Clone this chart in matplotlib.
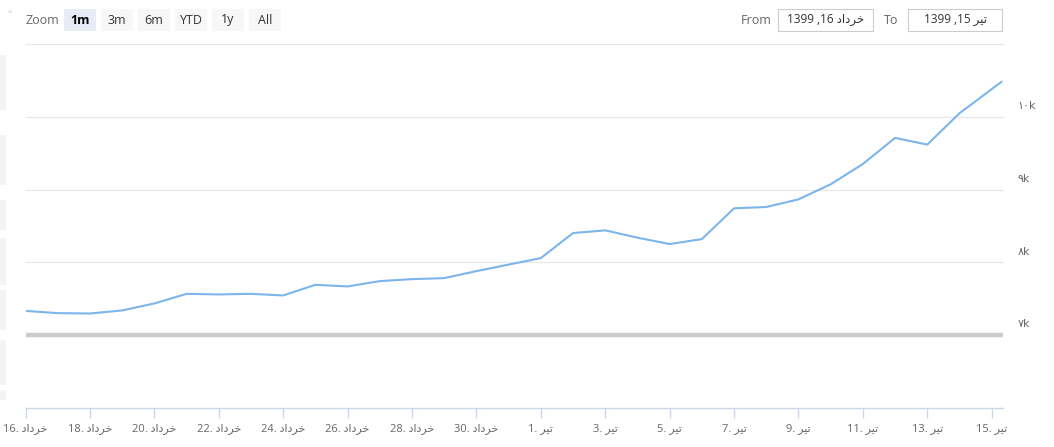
import matplotlib
matplotlib.use("Agg")
import matplotlib.pyplot as plt
from matplotlib.patches import Rectangle, FancyBboxPatch

plt.rcParams['font.family'] = ['Open Sans', 'DejaVu Sans']

# Persian month names in visual (pre-shaped, left-to-right) order
KHORDAD = "\uFEA9\uFE8D\uFEA9\uFEAE\uFEA7"   # خرداد
TIR = "\uFEAE\uFBFF\uFE97"                    # تیر

# day offsets from 16 Khordad 1399 (31 daily points; last one is the current day)
day_offset = [0, 1, 2, 3, 4, 5, 6, 7, 8, 9, 10, 11, 12, 13, 14, 15,
              16, 17, 18, 19, 20, 21, 22, 23, 24, 25, 26, 27, 28, 29, 30.3]
values = [7334, 7303, 7298, 7340, 7436, 7568, 7560, 7568, 7546, 7692, 7670,
          7743, 7770, 7784, 7880, 7970, 8059, 8403, 8440, 8340, 8252, 8320,
          8743, 8761, 8866, 9073, 9352, 9710, 9618, 10049, 10480]

tick_pos = [0, 2, 4, 6, 8, 10, 12, 14, 16, 18, 20, 22, 24, 26, 28, 30]
tick_labels = ["16. " + KHORDAD, "18. " + KHORDAD, "20. " + KHORDAD,
               "22. " + KHORDAD, "24. " + KHORDAD, "26. " + KHORDAD,
               "28. " + KHORDAD, "30. " + KHORDAD,
               "1. " + TIR, "3. " + TIR, "5. " + TIR, "7. " + TIR,
               "9. " + TIR, "11. " + TIR, "13. " + TIR, "15. " + TIR]
y_ticks = [7000, 8000, 9000, 10000]
y_labels = ["\u06F7k", "\u06F8k", "\u06F9k", "\u06F1\u06F0k"]
plot_line_value = 7000

W, H = 1054, 447
fig = plt.figure(figsize=(W / 100, H / 100), dpi=100)
fig.patch.set_facecolor("white")

# axes: x 25.5..1003, y 44..408 (pixels)
ax = fig.add_axes([25.5 / W, 1 - 408 / H, (1003 - 25.5) / W, (408 - 44) / H])
ax.set_xlim(0, 30.35)
ax.set_ylim(6000, 11000)
for s in ["top", "right", "left"]:
    ax.spines[s].set_visible(False)
ax.spines["bottom"].set_color("#ccd6eb")
ax.spines["bottom"].set_linewidth(1)

for yv in [8000, 9000, 10000, 11000]:
    ax.axhline(yv, color="#e6e6e6", lw=0.8, zorder=1, clip_on=False)
ax.axhline(plot_line_value, color="#cccccc", lw=3.2, zorder=2)

ax.plot(day_offset, values, color="#7cb5ec", lw=1.5, zorder=3,
        solid_joinstyle="round")

ax.set_xticks(tick_pos)
ax.set_xticklabels(tick_labels, fontsize=8, color="#666666")
ax.tick_params(axis="x", length=7, color="#ccd6eb", width=1, pad=4)
ax.set_yticks([])

for yv, lab in zip(y_ticks, y_labels):
    ax.text(1.015, (yv - 6000) / 5000 + 0.016, lab, transform=ax.transAxes,
            fontsize=8, color="#666666", ha="left", va="bottom",
            family=["DejaVu Sans"])

# --- toolbar ---
def px(x, y):
    return x / W, 1 - y / H

fig.text(*px(26, 20), "Zoom", fontsize=9, color="#666666", va="center", ha="left")
buttons = [("1m", 64, 96, True), ("3m", 101, 133, False), ("6m", 138, 170, False),
           ("YTD", 175, 207, False), ("1y", 212, 244, False), ("All", 249, 281, False)]
for lab, x0, x1, sel in buttons:
    fc = "#e6ebf5" if sel else "#f7f7f7"
    fig.patches.append(Rectangle(px(x0, 31), (x1 - x0) / W, 22 / H,
                                 transform=fig.transFigure, fc=fc, ec="none"))
    fig.text(*px((x0 + x1) / 2, 20), lab, fontsize=9,
             color="#000000" if sel else "#333333",
             weight="bold" if sel else "normal", ha="center", va="center")

fig.text(*px(741, 20), "From", fontsize=9, color="#666666", ha="left", va="center")
fig.text(*px(884, 20), "To", fontsize=9, color="#666666", ha="left", va="center")
for x0, x1, txt in [(778, 873, "1399 ,16 " + KHORDAD), (908, 1002, "1399 ,15 " + TIR)]:
    fig.patches.append(Rectangle(px(x0, 31), (x1 - x0) / W, 22 / H,
                                 transform=fig.transFigure, fc="white",
                                 ec="#cccccc", lw=0.8))
    fig.text(*px((x0 + x1) / 2, 20), txt, fontsize=8.5, color="#333333",
             ha="center", va="center")

# left edge remnants of neighbouring panel
for y0, y1 in [(55, 110), (135, 185), (200, 230), (238, 285), (290, 330),
               (340, 385), (390, 400)]:
    fig.patches.append(Rectangle(px(0, y1), 6 / W, (y1 - y0) / H,
                                 transform=fig.transFigure, fc="#f4f4f4", ec="none"))
fig.text(*px(10, 12), "<", fontsize=6, color="#bbbbbb", ha="center", va="center")

fig.savefig("out.png", dpi=100, facecolor="white")
